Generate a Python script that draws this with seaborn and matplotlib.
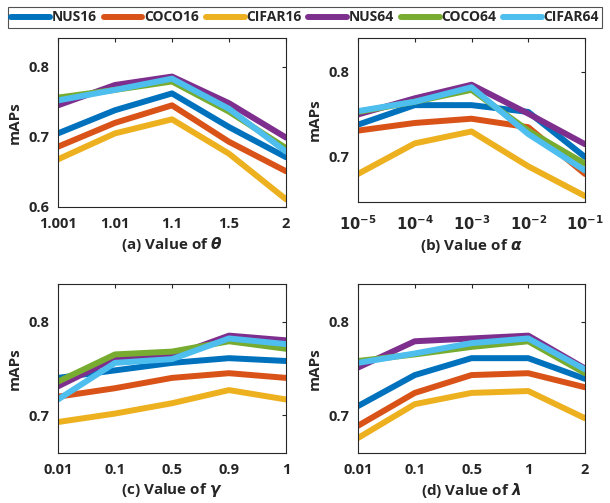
import pandas as pd
import matplotlib
matplotlib.use("Agg")
import matplotlib.pyplot as plt
import seaborn as sns

# ------------------------------
# Data
# ------------------------------
methods = ["NUS16", "COCO16", "CIFAR16", "NUS64", "COCO64", "CIFAR64"]
colors = ["#0072BD", "#D95319", "#EDB120", "#7E2F8E", "#77AC30", "#4DBEEE"]

theta_ticks = ["1.001", "1.01", "1.1", "1.5", "2"]
theta_vals = {
    "NUS16":   [0.705, 0.738, 0.762, 0.714, 0.671],
    "COCO16":  [0.686, 0.720, 0.745, 0.693, 0.651],
    "CIFAR16": [0.668, 0.705, 0.725, 0.676, 0.611],
    "NUS64":   [0.745, 0.774, 0.786, 0.748, 0.699],
    "COCO64":  [0.756, 0.767, 0.779, 0.736, 0.684],
    "CIFAR64": [0.752, 0.767, 0.783, 0.740, 0.679],
}

alpha_ticks = ["$10^{-5}$", "$10^{-4}$", "$10^{-3}$", "$10^{-2}$", "$10^{-1}$"]
alpha_vals = {
    "NUS16":   [0.738, 0.761, 0.761, 0.753, 0.700],
    "COCO16":  [0.731, 0.740, 0.745, 0.735, 0.680],
    "CIFAR16": [0.680, 0.716, 0.730, 0.689, 0.654],
    "NUS64":   [0.750, 0.769, 0.785, 0.751, 0.715],
    "COCO64":  [0.753, 0.765, 0.779, 0.731, 0.692],
    "CIFAR64": [0.754, 0.765, 0.782, 0.727, 0.684],
}

gamma_ticks = ["0.01", "0.1", "0.5", "0.9", "1"]
gamma_vals = {
    "NUS16":   [0.740, 0.748, 0.756, 0.761, 0.758],
    "COCO16":  [0.720, 0.729, 0.740, 0.745, 0.740],
    "CIFAR16": [0.693, 0.702, 0.713, 0.727, 0.717],
    "NUS64":   [0.731, 0.761, 0.763, 0.785, 0.780],
    "COCO64":  [0.736, 0.765, 0.768, 0.779, 0.771],
    "CIFAR64": [0.717, 0.756, 0.760, 0.782, 0.776],
}

lambda_ticks = ["0.01", "0.1", "0.5", "1", "2"]
lambda_vals = {
    "NUS16":   [0.710, 0.743, 0.761, 0.761, 0.739],
    "COCO16":  [0.689, 0.724, 0.743, 0.745, 0.730],
    "CIFAR16": [0.676, 0.712, 0.724, 0.726, 0.697],
    "NUS64":   [0.751, 0.779, 0.782, 0.785, 0.750],
    "COCO64":  [0.758, 0.765, 0.773, 0.779, 0.745],
    "CIFAR64": [0.756, 0.766, 0.777, 0.782, 0.749],
}

panels = [
    ("(a) Value of $\\theta$", theta_ticks, theta_vals, (0.6, 0.841), [0.6, 0.7, 0.8]),
    ("(b) Value of $\\alpha$", alpha_ticks, alpha_vals, (0.647, 0.84), [0.7, 0.8]),
    ("(c) Value of $\\gamma$", gamma_ticks, gamma_vals, (0.66, 0.84), [0.7, 0.8]),
    ("(d) Value of $\\lambda$", lambda_ticks, lambda_vals, (0.66, 0.84), [0.7, 0.8]),
]

# axes boxes in pixels: left, top, right, bottom
boxes = [(58, 38, 286, 207), (358, 38, 585, 202),
         (58, 284, 286, 453), (358, 284, 585, 453)]

sns.set_style("white")
plt.rcParams["font.family"] = ["Open Sans", "DejaVu Sans"]
plt.rcParams["font.weight"] = "bold"
plt.rcParams["mathtext.fontset"] = "dejavusans"
plt.rcParams["axes.edgecolor"] = "#262626"

W, H = 610, 503
fig = plt.figure(figsize=(W / 100, H / 100), dpi=100)
dark = "#262626"

for (label, ticks, vals, ylim, yticks), (l, t, r, b) in zip(panels, boxes):
    ax = fig.add_axes([l / W, 1 - b / H, (r - l) / W, (b - t) / H])
    rows = []
    for m in methods:
        for i, v in enumerate(vals[m]):
            rows.append({"pos": i, "mAP": v, "method": m})
    df = pd.DataFrame(rows)
    sns.lineplot(data=df, x="pos", y="mAP", hue="method", hue_order=methods,
                 palette=colors, linewidth=4.3, ax=ax, legend=False)
    ax.set_xlim(0, len(ticks) - 1)
    ax.set_ylim(*ylim)
    ax.set_xticks(range(len(ticks)))
    ax.set_xticklabels(ticks, fontsize=10.5, fontweight="bold", color=dark)
    ax.set_yticks(yticks)
    ax.set_yticklabels([f"{y:.1f}" for y in yticks], fontsize=10.5, fontweight="bold", color=dark)
    ax.tick_params(direction="in", top=True, right=True, length=3, width=0.8,
                   color=dark, pad=6)
    ax.tick_params(axis="x", pad=9 if "alpha" in label else 7)
    for s in ax.spines.values():
        s.set_linewidth(0.8)
    ax.set_xlabel(label, fontsize=11, fontweight="bold", color=dark, labelpad=3)
    ax.set_ylabel("mAPs", fontsize=11, fontweight="bold", color=dark, labelpad=5)

handles = [plt.Line2D([], [], color=c, linewidth=4.3) for c in colors]
leg = fig.legend(handles, methods, loc="upper center", bbox_to_anchor=(0.5, 1 - 7 / H),
                 ncol=6, frameon=True, fancybox=False, edgecolor=dark,
                 prop={"weight": "bold", "size": 10}, handlelength=2.8,
                 handletextpad=0.1, columnspacing=0.5, borderpad=0.25,
                 borderaxespad=0)
leg.get_frame().set_linewidth(0.8)

plt.savefig("out.png", dpi=100)
